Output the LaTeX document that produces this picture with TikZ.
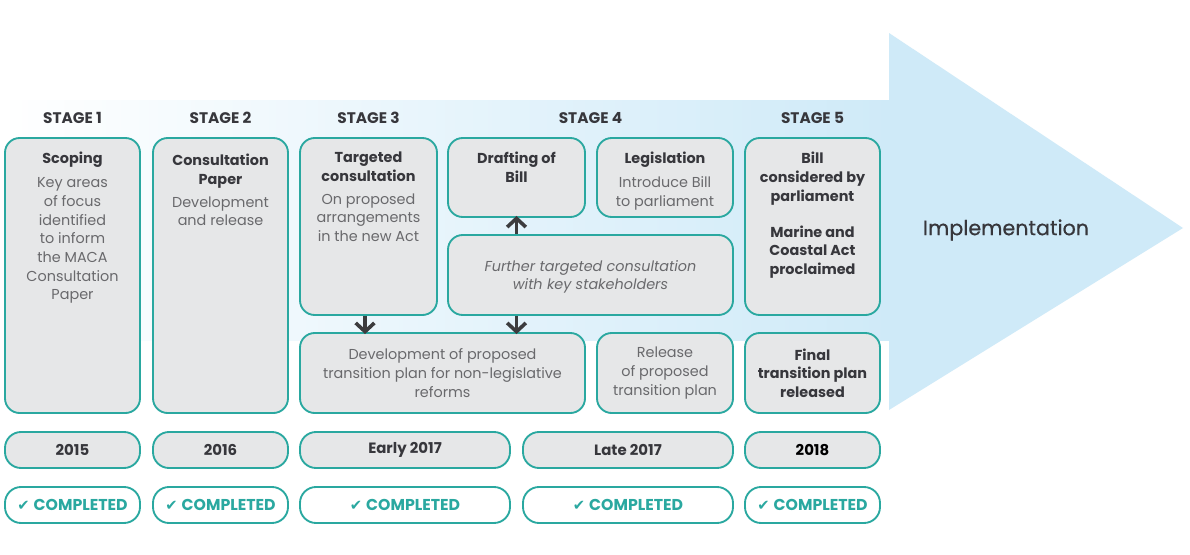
\documentclass[tikz,border=0pt]{standalone}
\usepackage{fontspec}
\setmainfont{Poppins}
\newfontfamily\symfont{DejaVu Sans}
\usetikzlibrary{arrows.meta}
\definecolor{tealc}{RGB}{42,168,160}
\definecolor{boxgray}{RGB}{230,231,232}
\definecolor{arrowblue}{RGB}{207,234,248}
\definecolor{darktext}{RGB}{55,55,60}
\definecolor{bodytext}{RGB}{105,105,108}
\definecolor{arrowdark}{RGB}{60,60,62}
\newcommand\bx[6]{\node[#6, minimum width={(#4-#2)*0.75pt}, minimum height={(#5-#3)*0.75pt}] (#1) at ({(#2+#4)/2},{(#3+#5)/2}) {};}
\tikzset{
  gbox/.style={draw=tealc, line width=1.4pt, fill=boxgray, rounded corners=11pt, inner sep=0pt},
  pill/.style={draw=tealc, line width=1.4pt, fill=boxgray, rounded corners=12pt, inner sep=0pt},
  wpill/.style={draw=tealc, line width=1.4pt, fill=white, rounded corners=12pt, inner sep=0pt},
  txt/.style={align=center, inner sep=0pt, text=bodytext, font=\fontsize{10.8}{14}\selectfont},
  ttl/.style={align=center, inner sep=0pt, text=darktext, font=\fontsize{10.8}{14}\selectfont\bfseries},
  stagelbl/.style={inner sep=0pt, text=darktext, font=\fontsize{11.5}{13}\selectfont\bfseries},
  datelbl/.style={inner sep=0pt, text=darktext, font=\fontsize{11.2}{13}\selectfont\bfseries},
  done/.style={inner sep=0pt, text=tealc, font=\fontsize{11.8}{13}\selectfont\bfseries},
  conn/.style={draw=arrowdark, line width=2.7pt, -{Straight Barb[length=6.5pt,width=14pt]}, shorten >=-1.5pt}
}
\begin{document}
\begin{tikzpicture}[x=0.75pt,y=-0.75pt]
\useasboundingbox (0,0) rectangle (1190,554);
\fill[white] (0,0) rectangle (1190,554);
% big arrow
\shade[left color=white, right color=arrowblue] (0,100) rectangle (890,340);
\fill[arrowblue] (889,33) -- (1183,228) -- (889,410) -- cycle;
\node[inner sep=0pt, text=darktext, font=\fontsize{15.5}{18}\selectfont\addfontfeature{FakeBold=0.6}] (impl) at (1006,230) {Implementation};
% stage labels
\node[stagelbl] (st1) at (72.5,118) {STAGE 1};
\node[stagelbl] (st2) at (220.5,118) {STAGE 2};
\node[stagelbl] (st3) at (368.5,118) {STAGE 3};
\node[stagelbl] (st4) at (590.5,118) {STAGE 4};
\node[stagelbl] (st5) at (812.5,118) {STAGE 5};
% boxes
\bx{s1}{5}{138}{140}{413}{gbox}
\bx{s2}{153}{138}{288}{413}{gbox}
\bx{tc}{300}{138}{437}{315}{gbox}
\bx{dr}{448}{138}{585}{217}{gbox}
\bx{lg}{597}{138}{733}{217}{gbox}
\bx{ft}{448}{235}{733}{315}{gbox}
\bx{bl}{745}{138}{880}{315}{gbox}
\bx{dv}{300}{333}{585}{413}{gbox}
\bx{rl}{597}{333}{733}{413}{gbox}
\bx{fn}{745}{333}{880}{413}{gbox}
% dates
\bx{d1}{5}{432}{140}{468}{pill}
\bx{d2}{153}{432}{288}{468}{pill}
\bx{d3}{300}{432}{510}{468}{pill}
\bx{d4}{523}{432}{733}{468}{pill}
\bx{d5}{745}{432}{880}{468}{pill}
\bx{c1}{5}{487}{140}{523}{wpill}
\bx{c2}{153}{487}{288}{523}{wpill}
\bx{c3}{300}{487}{510}{523}{wpill}
\bx{c4}{523}{487}{733}{523}{wpill}
\bx{c5}{745}{487}{880}{523}{wpill}
% texts
\node[txt, anchor=north] (t1) at (72.5,152) {{\color{darktext}\bfseries Scoping}\\[4pt]Key areas\\of focus\\identified\\to inform\\the MACA\\Consultation\\Paper};
\node[txt, anchor=north] (t2) at (220.5,154) {{\color{darktext}\bfseries Consultation}\\{\color{darktext}\bfseries Paper}\\[3pt]Development\\and release};
\node[txt, anchor=north] (t3) at (368.5,152) {{\color{darktext}\bfseries Targeted}\\{\color{darktext}\bfseries consultation}\\[3pt]On proposed\\arrangements\\in the new Act};
\node[ttl, anchor=north] (t4) at (516.5,152) {Drafting of\\Bill};
\node[txt, anchor=north] (t5) at (665,152) {{\color{darktext}\bfseries Legislation}\\[4pt]Introduce Bill\\to parliament};
\node[txt, font=\fontsize{10.8}{14}\selectfont\itshape] (t6) at (590.5,277) {Further targeted consultation\\with key stakeholders};
\node[ttl, anchor=north] (t7) at (812.5,152) {Bill\\considered by\\parliament\\[13pt]Marine and\\Coastal Act\\proclaimed};
\node[txt] (t8) at (442.5,373) {Development of proposed\\transition plan for non-legislative\\reforms};
\node[txt] (t9) at (665,373) {Release\\of proposed\\transition plan};
\node[ttl] (t10) at (812.5,373) {Final\\transition plan\\released};
% date labels
\node[datelbl] (l1) at (d1) {2015};
\node[datelbl] (l2) at (d2) {2016};
\node[datelbl] (l3) at (d3) {Early 2017};
\node[datelbl] (l4) at (d4) {Late 2017};
\node[datelbl, text=black] (l5) at (d5) {2018};
\foreach \c in {c1,c2,c3,c4,c5}{\node[done] (\c t) at (\c) {{\symfont\fontsize{11}{12}\selectfont ✔}\hspace{3pt}COMPLETED};}
% connectors
\draw[conn] ([xshift=-2.6pt]tc.south) -- ([xshift=-2.6pt]tc.south |- dv.north);
\draw[conn] (ft.south -| dr.south) -- (dr.south |- dv.north);
\draw[conn] (ft.north -| dr.south) -- (dr.south);
\end{tikzpicture}
\end{document}
